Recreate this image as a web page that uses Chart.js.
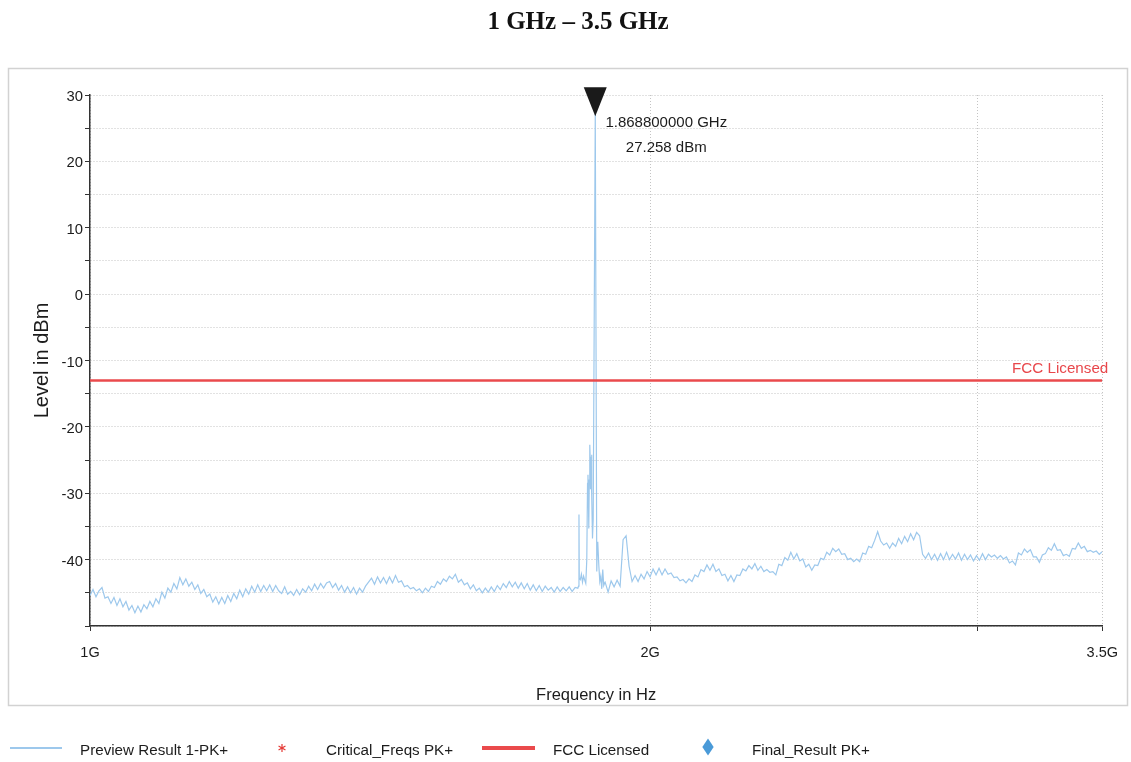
<!DOCTYPE html>
<html>
<head>
<meta charset="utf-8">
<title>1 GHz – 3.5 GHz</title>
<script src="https://cdn.jsdelivr.net/npm/chart.js@4.4.1/dist/chart.umd.min.js"></script>
<style>
  html, body { margin: 0; padding: 0; background: #fff; }
  #wrap { position: relative; width: 1131px; height: 762px; }
  #legend { position: absolute; left: 0; top: 738px; width: 1131px; height: 24px;
            font: 15.2px 'Liberation Sans', Arial, sans-serif; color: #1c1c1c; }
  #legend .txt { position: absolute; top: 0; line-height: 24px; white-space: nowrap; }
  #legend .sym { position: absolute; }
</style>
</head>
<body>
<div id="wrap">
  <canvas id="spectrum" width="1131" height="762"></canvas>
  <div id="legend"></div>
</div>
<script>
const sweepStart = 1e9;
const sweepStop = 3.5e9;

// peak hold readings (dBm), one per sweep point, log spaced from 1 GHz to 3.5 GHz
const previewLevels = [
  -45.4, -44.5, -45.6, -44.7, -44.2, -45.8, -45.6, -46.6, -45.7, -46.9, -45.9, -47.1, -46.3, -47.6, -46.9, -48.0, -47.0, -47.9, -46.8, -47.4,
  -46.3, -47.1, -45.9, -46.6, -44.9, -45.8, -44.3, -44.9, -43.6, -44.4, -42.7, -43.8, -42.9, -44.0, -43.4, -44.5, -43.8, -45.1, -44.5, -45.6,
  -45.2, -46.4, -45.6, -46.7, -45.7, -46.6, -45.4, -46.3, -45.1, -45.9, -44.6, -45.6, -44.4, -45.2, -44.0, -44.9, -43.8, -44.8, -43.9, -44.7,
  -43.8, -44.8, -43.9, -44.7, -45.1, -44.1, -45.2, -44.8, -45.4, -44.5, -45.3, -44.4, -44.9, -44.0, -44.7, -43.7, -44.5, -43.6, -44.3, -43.5,
  -43.3, -44.2, -43.6, -44.6, -43.9, -44.9, -44.1, -45.0, -44.2, -45.2, -44.3, -44.9, -44.0, -43.4, -42.8, -43.7, -42.6, -43.5, -42.7, -43.6,
  -42.6, -43.5, -42.4, -43.4, -43.2, -44.1, -43.9, -44.4, -44.2, -44.7, -44.4, -45.0, -44.3, -44.8, -44.0, -44.2, -43.3, -43.7, -42.9, -43.3,
  -42.5, -42.9, -42.2, -43.4, -43.0, -43.8, -43.5, -44.4, -43.8, -44.7, -44.3, -45.0, -44.3, -44.9, -44.1, -44.8, -43.9, -44.5, -43.6, -44.2,
  -43.3, -44.1, -43.4, -44.3, -43.5, -44.4, -43.6, -44.6, -43.8, -44.7, -43.9, -44.8, -44.0, -44.6, -44.2, -44.9, -44.1, -44.8, -44.2, -44.7,
  -44.1, -44.8, -44.2, -43.8, -42.6, -43.3, -28.0, -23.0, -36.5, 8.0, -40.8, -44.2, -43.4, -44.9, -43.2, -44.1, -43.1, -44.0, -37.0, -36.4,
  -41.0, -43.3, -42.4, -43.3, -42.2, -42.9, -41.8, -42.6, -41.4, -42.3, -41.3, -42.3, -41.4, -42.2, -42.0, -42.7, -42.6, -43.2, -43.0, -43.5,
  -42.9, -43.3, -42.3, -42.6, -41.5, -41.8, -40.8, -41.6, -40.7, -41.8, -41.4, -42.4, -42.2, -43.2, -42.4, -43.3, -42.3, -42.4, -41.4, -41.7,
  -40.9, -41.4, -40.6, -41.6, -41.0, -41.8, -41.5, -41.9, -41.8, -42.3, -40.7, -40.9, -39.7, -40.1, -38.9, -39.9, -39.1, -40.2, -39.9, -41.1,
  -40.7, -41.6, -40.8, -40.9, -39.8, -40.0, -38.9, -39.3, -38.3, -38.8, -38.4, -39.2, -39.1, -40.0, -39.8, -40.3, -39.9, -40.3, -39.0, -39.2,
  -38.0, -38.2, -37.1, -35.8, -37.2, -37.8, -37.5, -38.3, -37.5, -38.0, -36.8, -37.6, -36.5, -37.3, -36.1, -37.0, -35.9, -36.4, -39.2, -39.8,
  -39.0, -40.0, -39.2, -40.1, -39.1, -40.0, -38.9, -40.0, -39.2, -39.9, -39.0, -40.1, -39.2, -40.0, -39.3, -40.2, -39.4, -40.1, -39.1, -40.0,
  -39.2, -39.6, -39.3, -39.8, -39.4, -39.9, -39.6, -40.5, -40.2, -40.8, -39.0, -39.3, -38.4, -38.9, -38.5, -39.6, -39.6, -40.4, -39.3, -39.1,
  -38.2, -38.6, -37.6, -38.6, -38.5, -39.4, -39.2, -39.5, -38.3, -38.4, -37.5, -38.3, -38.0, -38.8, -38.6, -38.9, -38.7, -39.2, -38.8
];

// finer readings around the carrier, these replace the coarse points in that span
const carrierFreqsGHz = [
  1.8289, 1.8305, 1.8315, 1.8322, 1.8345, 1.8370, 1.8395, 1.8420, 1.8445, 1.8470,
  1.8493, 1.8510, 1.8520, 1.8530, 1.8539, 1.8550, 1.8562, 1.8570, 1.8578, 1.8590,
  1.8601, 1.8612, 1.8624, 1.8640, 1.8688, 1.8723, 1.8735, 1.8746, 1.8770, 1.8793,
  1.8815, 1.8839, 1.8862, 1.8885, 1.8909
];
const carrierLevels = [
  -44.3, -44.0, -33.2, -42.8, -43.0, -42.2, -43.4, -42.5, -43.1, -43.6,
  -40.0, -28.5, -27.2, -31.0, -35.3, -28.0, -22.7, -24.5, -29.4, -26.0,
  -24.2, -30.5, -36.8, -34.0, 27.258, -41.8, -38.0, -37.3, -40.8, -43.3,
  -42.5, -44.4, -41.5, -43.9, -43.5
];

const limitLevel = -13;        // FCC Licensed
const markerFreq = 1.8688e9;
const markerLevel = 27.258;

const xTickValues = [1e9, 2e9, 3e9, 3.5e9];
const xTickLabels = ['1G', '2G', '', '3.5G'];

const sans = "'Liberation Sans', Arial, sans-serif";
const ink = '#1c1c1c';

// build the trace
const n = previewLevels.length;
const cLo = carrierFreqsGHz[0] * 1e9;
const cHi = carrierFreqsGHz[carrierFreqsGHz.length - 1] * 1e9;
let trace = [];
for (let i = 0; i < n; i++) {
  const f = sweepStart * Math.pow(sweepStop / sweepStart, i / (n - 1));
  if (f >= cLo && f <= cHi) continue;
  trace.push({x: f, y: previewLevels[i]});
}
carrierFreqsGHz.forEach((f, i) => trace.push({x: f * 1e9, y: carrierLevels[i]}));
trace.sort((a, b) => a.x - b.x);

// grey frame and heading
const framePlugin = {
  id: 'frame',
  beforeDraw(chart) {
    const ctx = chart.ctx;
    ctx.save();
    ctx.fillStyle = '#fff';
    ctx.fillRect(0, 0, chart.width, chart.height);
    ctx.strokeStyle = '#d2d2d2';
    ctx.lineWidth = 1.5;
    ctx.strokeRect(8.5, 68.5, 1119, 637);
    ctx.fillStyle = '#111';
    ctx.font = "bold 25px 'Liberation Serif', 'Times New Roman', serif";
    ctx.textAlign = 'center';
    ctx.textBaseline = 'middle';
    ctx.fillText('1 GHz \u2013 3.5 GHz', 578, 23);
    ctx.restore();
  }
};

// peak marker and limit line caption
const markerPlugin = {
  id: 'marker',
  afterDatasetsDraw(chart) {
    const ctx = chart.ctx;
    const xs = chart.scales.x, ys = chart.scales.y;
    const px = xs.getPixelForValue(markerFreq);
    const py = ys.getPixelForValue(markerLevel);
    ctx.save();
    ctx.fillStyle = '#1a1a1a';
    ctx.beginPath();
    ctx.moveTo(px, py + 3);
    ctx.lineTo(px - 11.5, py - 26);
    ctx.lineTo(px + 11.5, py - 26);
    ctx.closePath();
    ctx.fill();

    ctx.fillStyle = ink;
    ctx.font = '15px ' + sans;
    ctx.textAlign = 'center';
    ctx.textBaseline = 'middle';
    ctx.fillText((markerFreq / 1e9).toFixed(9) + ' GHz', px + 71, py + 10);
    ctx.fillText(markerLevel.toFixed(3) + ' dBm', px + 71, py + 35);

    const ly = ys.getPixelForValue(limitLevel);
    ctx.font = '15.2px ' + sans;
    ctx.fillStyle = '#e8474b';
    ctx.textAlign = 'right';
    ctx.fillText('FCC Licensed', chart.chartArea.right + 6, ly - 12);
    ctx.restore();
  }
};

const canvas = document.getElementById('spectrum');
const chart = new Chart(canvas, {
  type: 'line',
  data: {
    datasets: [
      {
        label: 'Preview Result 1-PK+',
        data: trace,
        borderColor: '#9dc8ec',
        borderWidth: 1.2,
        pointRadius: 0,
        tension: 0,
        order: 2
      },
      {
        label: 'Critical_Freqs PK+',
        data: [],
        borderColor: '#e53935',
        backgroundColor: '#e53935',
        pointStyle: 'star',
        showLine: false
      },
      {
        label: 'FCC Licensed',
        data: [{x: sweepStart, y: limitLevel}, {x: sweepStop, y: limitLevel}],
        borderColor: '#ea4a4c',
        borderWidth: 2.5,
        pointRadius: 0,
        order: 1
      },
      {
        label: 'Final_Result PK+',
        data: [],
        borderColor: '#4a9ad8',
        backgroundColor: '#4a9ad8',
        pointStyle: 'rectRot',
        showLine: false
      }
    ]
  },
  options: {
    responsive: false,
    animation: false,
    devicePixelRatio: 1,
    layout: { padding: { left: 0, right: 28, top: 95, bottom: 0 } },
    plugins: {
      legend: { display: false },
      title: { display: false },
      tooltip: { enabled: false }
    },
    scales: {
      x: {
        type: 'logarithmic',
        min: sweepStart,
        max: sweepStop,
        afterBuildTicks: s => { s.ticks = xTickValues.map(v => ({value: v})); },
        afterFit: s => { s.height = 136; },
        ticks: {
          autoSkip: false,
          maxRotation: 0,
          padding: 13,
          color: ink,
          font: { family: sans, size: 14.5 },
          callback: (v, i) => xTickLabels[i]
        },
        grid: { color: '#c4c4c4', tickColor: '#333', tickLength: 5, lineWidth: 1 },
        border: { color: '#333', width: 1.5, dash: [1, 2] },
        title: {
          display: true,
          text: 'Frequency in Hz',
          color: ink,
          font: { family: sans, size: 16.5 },
          padding: { top: 57, bottom: 57 }
        }
      },
      y: {
        min: -50,
        max: 30,
        afterFit: s => { s.width = 90; },
        ticks: {
          stepSize: 5,
          autoSkip: false,
          padding: 2,
          labelOffset: 2,
          color: ink,
          font: { family: sans, size: 14.8 },
          callback: v => (v % 10 === 0 && v > -50) ? v : ''
        },
        grid: { color: '#c4c4c4', tickColor: '#333', tickLength: 5, lineWidth: 1 },
        border: { color: '#333', width: 1.5, dash: [1, 2] },
        title: {
          display: true,
          text: 'Level in dBm',
          color: ink,
          font: { family: sans, size: 20 },
          padding: { top: 30, bottom: 30 }
        }
      }
    }
  },
  plugins: [framePlugin, markerPlugin]
});

// legend row under the frame
const legendSlots = [
  { sym: 'line', symX: 10, symW: 52, lw: 1.5, textX: 80 },
  { sym: 'star', symX: 282, textX: 326 },
  { sym: 'line', symX: 482, symW: 53, lw: 3.5, textX: 553 },
  { sym: 'diamond', symX: 708, textX: 752 }
];
const legendBox = document.getElementById('legend');
chart.data.datasets.forEach((ds, i) => {
  const slot = legendSlots[i];
  let sym;
  if (slot.sym === 'star') {
    // six-armed asterisk
    sym = document.createElementNS('http://www.w3.org/2000/svg', 'svg');
    sym.setAttribute('width', '10');
    sym.setAttribute('height', '10');
    sym.setAttribute('viewBox', '-5 -5 10 10');
    [90, 30, 150].forEach(a => {
      const r = a * Math.PI / 180;
      const l = document.createElementNS('http://www.w3.org/2000/svg', 'line');
      l.setAttribute('x1', (-4 * Math.cos(r)).toFixed(2));
      l.setAttribute('y1', (-4 * Math.sin(r)).toFixed(2));
      l.setAttribute('x2', (4 * Math.cos(r)).toFixed(2));
      l.setAttribute('y2', (4 * Math.sin(r)).toFixed(2));
      l.setAttribute('stroke', ds.borderColor);
      l.setAttribute('stroke-width', '1.2');
      sym.appendChild(l);
    });
    sym.style.position = 'absolute';
    sym.style.left = (slot.symX - 5) + 'px';
    sym.style.top = '5px';
  } else {
    sym = document.createElement('div');
    sym.className = 'sym';
    if (slot.sym === 'line') {
      sym.style.left = slot.symX + 'px';
      sym.style.top = (10 - slot.lw / 2) + 'px';
      sym.style.width = slot.symW + 'px';
      sym.style.height = slot.lw + 'px';
      sym.style.background = ds.borderColor;
    } else {
      sym.style.left = (slot.symX - 4) + 'px';
      sym.style.top = '5px';
      sym.style.width = '8px';
      sym.style.height = '8px';
      sym.style.background = ds.backgroundColor;
      sym.style.transform = 'scaleY(1.5) rotate(45deg)';
    }
  }
  legendBox.appendChild(sym);
  const txt = document.createElement('div');
  txt.className = 'txt';
  txt.style.left = slot.textX + 'px';
  txt.textContent = ds.label;
  legendBox.appendChild(txt);
});
</script>
</body>
</html>
